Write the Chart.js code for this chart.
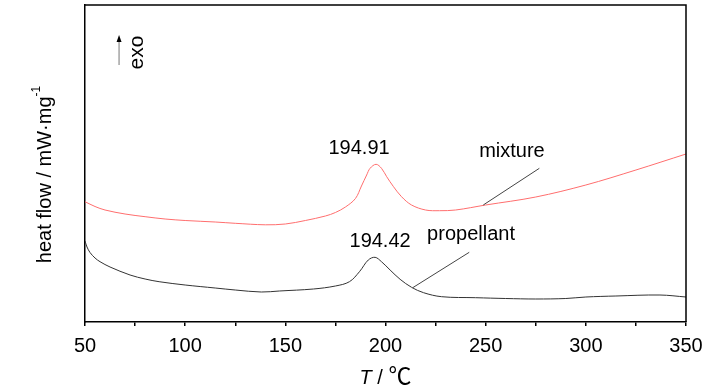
<!DOCTYPE html>
<html>
<head>
<meta charset="utf-8">
<script src="https://cdn.jsdelivr.net/npm/chart.js@4"></script>
<style>
  html, body { margin: 0; padding: 0; background: #fff; }
</style>
</head>
<body>
<canvas id="dsc" width="728" height="390"></canvas>
<script>
// temperature (°C) and heat flow (arbitrary offset units)
const mixtureT  = [50, 55, 60, 70, 80, 90, 100, 115, 125, 140, 150, 160, 170, 175, 180, 185, 188, 190.6, 192.3, 195.3, 198, 200.6, 204, 208, 213, 220, 227, 235, 250, 275, 300, 325, 350];
const mixtureHF = [12.03, 11.55, 11.2, 10.8, 10.53, 10.3, 10.15, 10.0, 9.87, 9.72, 9.8, 10.15, 10.6, 10.95, 11.5, 12.35, 13.6, 14.7, 15.37, 15.77, 15.37, 14.53, 13.53, 12.53, 11.7, 11.2, 11.13, 11.2, 11.7, 12.5, 13.7, 15.2, 16.8];

const propT  = [50, 51, 52.5, 55, 57.5, 62.5, 72.5, 80, 87, 100, 115, 125, 138, 147, 164, 175, 182, 187, 191.4, 194.8, 198, 202.3, 207.3, 213, 219, 228, 245, 260, 275, 290, 300, 315, 337, 350];
const propHF = [8.1, 7.5, 6.95, 6.4, 6.03, 5.5, 4.7, 4.3, 4.03, 3.7, 3.4, 3.2, 3.0, 3.1, 3.3, 3.6, 4.03, 5.03, 6.2, 6.47, 6.03, 5.2, 4.27, 3.47, 2.93, 2.53, 2.43, 2.35, 2.3, 2.35, 2.5, 2.6, 2.7, 2.5];

const peakMixture = 194.91;
const peakProp = 194.42;
const seriesNames = ['mixture', 'propellant'];

const FONT = "'Liberation Sans', Arial, sans-serif";
const FS = 20;

const toPoints = (xs, ys) => xs.map((t, i) => ({ x: t, y: ys[i] }));

// labels, leader lines, exo arrow, axis titles
const overlay = {
  id: 'overlay',
  afterDraw(chart) {
    const { ctx, chartArea: a, scales: { x, y } } = chart;
    const px = v => x.getPixelForValue(v);
    const py = v => y.getPixelForValue(v);
    ctx.save();

    // top and right frame
    ctx.strokeStyle = '#000';
    ctx.lineWidth = 1.5;
    ctx.beginPath();
    ctx.moveTo(a.left, a.top);
    ctx.lineTo(a.right, a.top);
    ctx.lineTo(a.right, a.bottom);
    ctx.stroke();

    // leader lines
    ctx.strokeStyle = '#444';
    ctx.lineWidth = 1;
    const seg = (x1, y1, x2, y2) => {
      ctx.beginPath();
      ctx.moveTo(px(x1), py(y1));
      ctx.lineTo(px(x2), py(y2));
      ctx.stroke();
    };
    seg(248.8, 11.7, 276.8, 15.37);
    seg(213.6, 3.43, 241.8, 6.97);

    ctx.fillStyle = '#000';
    ctx.font = FS + 'px ' + FONT;
    ctx.textAlign = 'center';
    ctx.textBaseline = 'middle';
    ctx.fillText(peakMixture.toFixed(2), px(186.8), py(17.4));
    ctx.fillText(peakProp.toFixed(2), px(197.3), py(8.1));
    ctx.fillText(seriesNames[0], px(263.1), py(17.1));
    ctx.fillText(seriesNames[1], px(242.7), py(8.8));

    // exo arrow
    const ax = px(67);
    ctx.strokeStyle = '#777';
    ctx.beginPath();
    ctx.moveTo(ax, py(25.7));
    ctx.lineTo(ax, py(28.3));
    ctx.stroke();
    ctx.fillStyle = '#000';
    ctx.beginPath();
    ctx.moveTo(ax, py(28.7));
    ctx.lineTo(ax - 2.5, py(28.0));
    ctx.lineTo(ax + 2.5, py(28.0));
    ctx.closePath();
    ctx.fill();

    ctx.save();
    ctx.translate(px(76.2), py(26.95));
    ctx.rotate(-Math.PI / 2);
    ctx.font = '21px ' + FONT;
    ctx.fillText('exo', 0, 0);
    ctx.restore();

    // y title with superscript
    ctx.save();
    ctx.translate(a.left - 40, (a.top + a.bottom) / 2 + 11);
    ctx.rotate(-Math.PI / 2);
    ctx.textAlign = 'left';
    ctx.textBaseline = 'middle';
    const main = 'heat flow / mW\u00b7mg';
    ctx.font = FS + 'px ' + FONT;
    const w1 = ctx.measureText(main).width;
    ctx.font = '12px ' + FONT;
    const w2 = ctx.measureText('-1').width;
    const x0 = -(w1 + w2) / 2;
    ctx.font = FS + 'px ' + FONT;
    ctx.fillText(main, x0, 0);
    ctx.font = '12px ' + FONT;
    ctx.fillText('-1', x0 + w1, -8);
    ctx.restore();

    // x title: T / ℃
    ctx.textBaseline = 'middle';
    ctx.textAlign = 'left';
    const cx = (a.left + a.right) / 2;
    const ty = a.bottom + 56;
    const serif = "23px 'Liberation Serif', 'Noto Sans CJK SC', serif";
    ctx.font = 'italic ' + FS + 'px ' + FONT;
    const wT = ctx.measureText('T').width;
    ctx.font = FS + 'px ' + FONT;
    const wS = ctx.measureText(' / ').width;
    ctx.font = serif;
    const wC = ctx.measureText('\u2103').width;
    let tx = cx - (wT + wS + wC) / 2;
    ctx.font = 'italic ' + FS + 'px ' + FONT;
    ctx.fillText('T', tx, ty);
    tx += wT;
    ctx.font = FS + 'px ' + FONT;
    ctx.fillText(' / ', tx, ty);
    tx += wS;
    ctx.font = serif;
    ctx.fillText('\u2103', tx, ty);

    ctx.restore();
  }
};

new Chart(document.getElementById('dsc'), {
  type: 'line',
  data: {
    datasets: [
      {
        label: seriesNames[0],
        data: toPoints(mixtureT, mixtureHF),
        borderColor: 'rgb(255, 110, 110)',
        borderWidth: 1,
        pointRadius: 0,
        tension: 0.35
      },
      {
        label: seriesNames[1],
        data: toPoints(propT, propHF),
        borderColor: '#333',
        borderWidth: 1,
        pointRadius: 0,
        tension: 0.35
      }
    ]
  },
  options: {
    responsive: false,
    animation: false,
    layout: { padding: { left: 85, right: 42, top: 5, bottom: 0 } },
    plugins: {
      legend: { display: false },
      tooltip: { enabled: false }
    },
    scales: {
      x: {
        type: 'linear',
        min: 50,
        max: 350,
        ticks: {
          stepSize: 25,
          autoSkip: false,
          maxRotation: 0,
          color: '#000',
          padding: 8,
          font: { family: FONT, size: FS },
          callback: v => (v % 50 === 0 ? v : '')
        },
        grid: { display: true, drawOnChartArea: false, drawTicks: true, tickLength: 4, color: '#000', lineWidth: 1.5 },
        border: { display: true, color: '#000', width: 1.5 },
        afterFit: s => { s.height = 68; }
      },
      y: {
        min: 0,
        max: 31.7,
        ticks: { display: false },
        grid: { display: false },
        border: { display: true, color: '#000', width: 1.5 },
        afterFit: s => { s.width = 0; }
      }
    }
  },
  plugins: [overlay]
});
</script>
</body>
</html>
